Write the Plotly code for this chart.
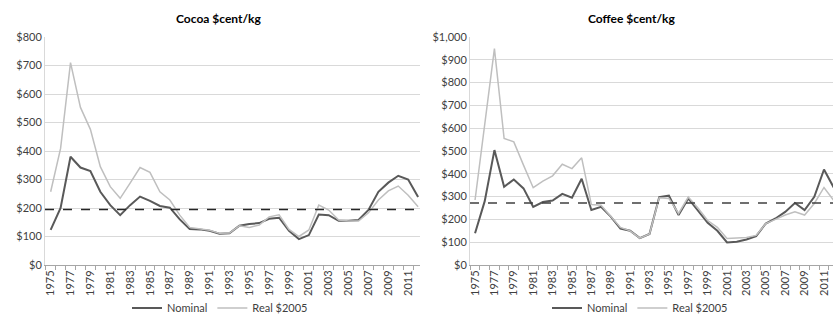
import plotly.graph_objects as go

years = list(range(1975, 2013))

cocoa_nominal = [123, 200, 380, 342, 330, 257, 210, 175, 210, 240, 225, 207, 201,
                 160, 126, 125, 120, 110, 111, 138, 144, 147, 162, 166, 120, 91,
                 105, 177, 175, 155, 155, 158, 193, 257, 289, 313, 300, 239]
cocoa_real = [257, 409, 710, 553, 476, 345, 275, 234, 287, 342, 325, 257, 228,
              175, 132, 128, 122, 111, 112, 138, 132, 140, 169, 176, 125, 100,
              123, 210, 193, 158, 154, 154, 183, 228, 260, 277, 245, 204]
coffee_nominal = [139, 280, 504, 343, 375, 336, 255, 276, 283, 312, 295, 378, 241,
                  255, 212, 160, 150, 118, 136, 298, 304, 219, 292, 240, 185, 150,
                  99, 102, 112, 127, 182, 204, 233, 272, 241, 299, 419, 340]
coffee_real = [285, 615, 949, 555, 540, 438, 339, 368, 391, 442, 423, 470, 265,
               262, 215, 165, 150, 118, 136, 295, 292, 226, 298, 250, 195, 165,
               116, 119, 121, 130, 182, 200, 219, 233, 219, 270, 340, 283]

cocoa_ref = 195
coffee_ref = 272

cocoa_yticks = list(range(0, 801, 100))
coffee_yticks = list(range(0, 1001, 100))
label_years = list(range(1975, 2012, 2))

W, H = 833, 318
DARK = "#595959"
LIGHT = "#BFBFBF"
GRID = "#D9D9D9"
TXT = "#404040"
FONT = "Lato"

fig = go.Figure()

fig.add_trace(go.Scatter(x=years, y=cocoa_nominal, mode="lines", name="Nominal",
                         line=dict(color=DARK, width=2), xaxis="x", yaxis="y",
                         legend="legend"))
fig.add_trace(go.Scatter(x=years, y=cocoa_real, mode="lines", name="Real $2005",
                         line=dict(color=LIGHT, width=1.5), xaxis="x", yaxis="y",
                         legend="legend"))
fig.add_trace(go.Scatter(x=years, y=coffee_nominal, mode="lines", name="Nominal",
                         line=dict(color=DARK, width=2), xaxis="x2", yaxis="y2",
                         legend="legend2"))
fig.add_trace(go.Scatter(x=years, y=coffee_real, mode="lines", name="Real $2005",
                         line=dict(color=LIGHT, width=1.5), xaxis="x2", yaxis="y2",
                         legend="legend2"))

ytop = 1 - 37 / H
ybot = 1 - 265 / H

def xaxis_cfg(domain, rng, anchor):
    return dict(
        domain=domain, range=rng, tickmode="array", tickvals=label_years,
        ticktext=[str(y) for y in label_years], tickangle=-90, ticks="",
        showgrid=False, zeroline=False, showline=True, linecolor="#A6A6A6",
        linewidth=1, anchor=anchor, automargin=False, fixedrange=True,
        tickfont=dict(family=FONT, size=11, color=TXT),
        minor=dict(tickmode="array", tickvals=[y - 0.5 for y in years] + [years[-1] + 0.5],
                   ticks="outside", ticklen=4, tickcolor="#A6A6A6", showgrid=False),
    )

def yaxis_cfg(ticks, fmt_vals, anchor):
    return dict(
        domain=[ybot, ytop], range=[0, ticks[-1]], tickmode="array", tickvals=ticks,
        ticktext=fmt_vals, showgrid=True, gridcolor=GRID, gridwidth=1,
        zeroline=False, showline=True, linecolor=GRID, linewidth=1, ticks="",
        tickfont=dict(family=FONT, size=11, color=TXT), anchor=anchor,
        fixedrange=True, automargin=False,
    )

fig.update_layout(
    width=W, height=H, margin=dict(l=0, r=0, t=0, b=0, autoexpand=False),
    paper_bgcolor="white", plot_bgcolor="white",
    xaxis=xaxis_cfg([45 / W, 420 / W], [1974.43, 2012.19], "y"),
    xaxis2=xaxis_cfg([470 / W, 1.0], [1974.48, 2011.93], "y2"),
    yaxis=yaxis_cfg(cocoa_yticks, ["$" + format(v, ",") for v in cocoa_yticks], "x"),
    yaxis2=yaxis_cfg(coffee_yticks, ["$" + format(v, ",") for v in coffee_yticks], "x2"),
    legend=dict(orientation="h", x=220 / W, xanchor="center", y=1 - 308 / H,
                yanchor="middle", font=dict(family=FONT, size=11, color=TXT),
                itemwidth=30, bgcolor="rgba(0,0,0,0)"),
    legend2=dict(orientation="h", x=640 / W, xanchor="center", y=1 - 308 / H,
                 yanchor="middle", font=dict(family=FONT, size=11, color=TXT),
                 itemwidth=30, bgcolor="rgba(0,0,0,0)"),
    shapes=[
        dict(type="line", xref="x domain", yref="y", x0=0, x1=1, y0=cocoa_ref, y1=cocoa_ref,
             line=dict(color="#262626", width=1.5, dash="dash")),
        dict(type="line", xref="x2 domain", yref="y2", x0=0, x1=1, y0=coffee_ref, y1=coffee_ref,
             line=dict(color="#404040", width=1.5, dash="dash")),
    ],
    annotations=[
        dict(text="<b>Cocoa $cent/kg</b>", xref="paper", yref="paper", x=218 / W,
             y=1 - 19 / H, showarrow=False, xanchor="center", yanchor="middle",
             font=dict(family=FONT, size=12, color="black")),
        dict(text="<b>Coffee $cent/kg</b>", xref="paper", yref="paper", x=632 / W,
             y=1 - 19 / H, showarrow=False, xanchor="center", yanchor="middle",
             font=dict(family=FONT, size=12, color="black")),
    ],
    showlegend=True,
)

fig.write_html("out.html", config={"displayModeBar": False},
               post_script="document.body.style.margin='0';document.body.style.overflow='hidden';")
